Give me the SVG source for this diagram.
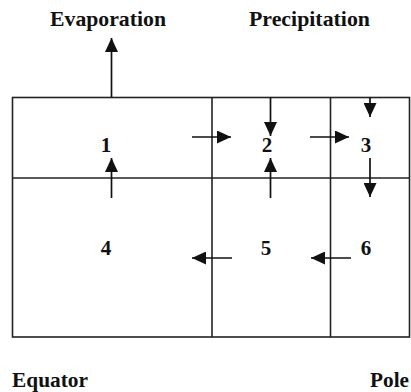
<svg xmlns="http://www.w3.org/2000/svg" width="411" height="392" viewBox="0 0 411 392">
<defs>
<marker id="ah" markerWidth="14" markerHeight="13" refX="14" refY="6.5" orient="auto" markerUnits="userSpaceOnUse">
<path d="M0,0 L14,6.5 L0,13 Z" fill="#111"/>
</marker>
</defs>
<style>
.box{fill:none;stroke:#222;stroke-width:1.6}
.arr{stroke:#111;stroke-width:1.7;fill:none;marker-end:url(#ah)}
</style>
<rect width="411" height="392" fill="#fff"/>
<g id="grid">
<rect class="box" x="12.5" y="97.5" width="397" height="239.5"/>
<line class="box" x1="12.5" y1="178" x2="409.5" y2="178"/>
<line class="box" x1="212" y1="97.5" x2="212" y2="337"/>
<line class="box" x1="330.5" y1="97.5" x2="330.5" y2="337"/>
</g>
<g id="labels">
<text x="50" y="26" font-family="Liberation Serif" font-weight="bold" font-size="22" fill="#111" textLength="116" lengthAdjust="spacingAndGlyphs">Evaporation</text>
<text x="249" y="26" font-family="Liberation Serif" font-weight="bold" font-size="22" fill="#111" textLength="121" lengthAdjust="spacingAndGlyphs">Precipitation</text>
<text x="12" y="387" font-family="Liberation Serif" font-weight="bold" font-size="22" fill="#111" textLength="76" lengthAdjust="spacingAndGlyphs">Equator</text>
<text x="370" y="387" font-family="Liberation Serif" font-weight="bold" font-size="22" fill="#111" textLength="39" lengthAdjust="spacingAndGlyphs">Pole</text>
</g>
<g id="n1"><text x="106" y="152" font-family="Liberation Serif" font-weight="bold" font-size="21" fill="#111" text-anchor="middle">1</text></g>
<g id="n2"><text x="267" y="152" font-family="Liberation Serif" font-weight="bold" font-size="21" fill="#111" text-anchor="middle">2</text></g>
<g id="n3"><text x="366" y="152" font-family="Liberation Serif" font-weight="bold" font-size="21" fill="#111" text-anchor="middle">3</text></g>
<g id="n4"><text x="106" y="255" font-family="Liberation Serif" font-weight="bold" font-size="21" fill="#111" text-anchor="middle">4</text></g>
<g id="n5"><text x="266" y="255" font-family="Liberation Serif" font-weight="bold" font-size="21" fill="#111" text-anchor="middle">5</text></g>
<g id="n6"><text x="366" y="255" font-family="Liberation Serif" font-weight="bold" font-size="21" fill="#111" text-anchor="middle">6</text></g>
<g id="connectors">
<line class="arr" x1="111.5" y1="97" x2="111.5" y2="38"/>
<line class="arr" x1="111.5" y1="198" x2="111.5" y2="158"/>
<line class="arr" x1="270.5" y1="198" x2="270.5" y2="158"/>
<line class="arr" x1="270.5" y1="97" x2="270.5" y2="136"/>
<line class="arr" x1="370" y1="97" x2="370" y2="117"/>
<line class="arr" x1="370" y1="158" x2="370" y2="197"/>
<line class="arr" x1="192" y1="137" x2="231" y2="137"/>
<line class="arr" x1="310" y1="137" x2="349" y2="137"/>
<line class="arr" x1="232" y1="258" x2="192" y2="258"/>
<line class="arr" x1="351" y1="258" x2="311" y2="258"/>
</g>
</svg>
